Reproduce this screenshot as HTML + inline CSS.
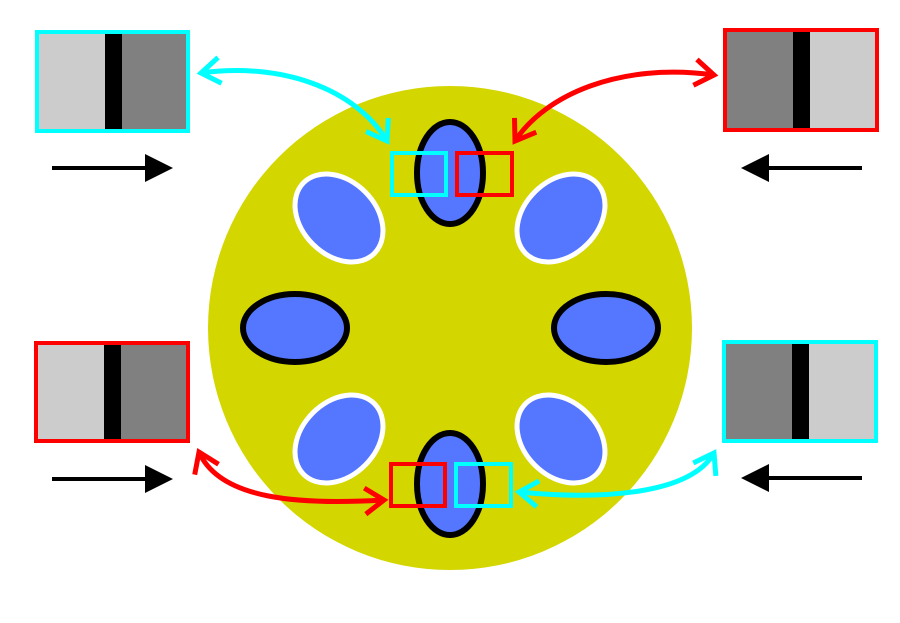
<!DOCTYPE html>
<html><head><style>html,body{margin:0;padding:0;background:#fff}svg{display:block}</style></head>
<body>
<svg width="900" height="623" viewBox="0 0 900 623" xmlns="http://www.w3.org/2000/svg">
<defs>
<marker id="mc" markerWidth="8" markerHeight="8" refX="7" refY="4" orient="auto-start-reverse" markerUnits="userSpaceOnUse" viewBox="0 0 8 8" style="overflow:visible">
<path d="M-12,-9 L7,4 L-12,17" transform="translate(0,-4) scale(1) translate(0,4)" fill="none" stroke="#00ffff" stroke-width="5"/>
</marker>
<marker id="mr" markerWidth="8" markerHeight="8" refX="7" refY="4" orient="auto-start-reverse" markerUnits="userSpaceOnUse" viewBox="0 0 8 8" style="overflow:visible">
<path d="M-12,-9 L7,4 L-12,17" fill="none" stroke="#ff0000" stroke-width="5"/>
</marker>
</defs>
<circle cx="450" cy="328" r="242" fill="#d4d600"/>
<g fill="#5577ff">
<ellipse cx="450" cy="173" rx="33" ry="51" stroke="#000" stroke-width="6"/>
<ellipse cx="450" cy="484" rx="33" ry="51" stroke="#000" stroke-width="6"/>
<ellipse cx="295" cy="328" rx="52" ry="34" stroke="#000" stroke-width="6"/>
<ellipse cx="606" cy="328" rx="52" ry="34" stroke="#000" stroke-width="6"/>
<ellipse cx="339" cy="218" rx="50" ry="37" stroke="#fff" stroke-width="5" transform="rotate(45 339 218)"/>
<ellipse cx="561" cy="218" rx="50" ry="37" stroke="#fff" stroke-width="5" transform="rotate(-45 561 218)"/>
<ellipse cx="339" cy="439" rx="50" ry="37" stroke="#fff" stroke-width="5" transform="rotate(-45 339 439)"/>
<ellipse cx="561" cy="439" rx="50" ry="37" stroke="#fff" stroke-width="5" transform="rotate(45 561 439)"/>
</g>
<g fill="none" stroke-width="4">
<rect x="392" y="153" width="54" height="42" stroke="#00ffff"/>
<rect x="457" y="153" width="55" height="42" stroke="#ff0000"/>
<rect x="391" y="464" width="54" height="42" stroke="#ff0000"/>
<rect x="456" y="464" width="55" height="42" stroke="#00ffff"/>
</g>
<!-- boxes -->
<rect x="37" y="32" width="68" height="99" fill="#cccccc"/><rect x="105" y="32" width="17" height="99" fill="#000"/><rect x="122" y="32" width="66" height="99" fill="#808080"/>
<rect x="37" y="32" width="151" height="99" fill="none" stroke="#00ffff" stroke-width="4"/>
<rect x="725" y="30" width="68" height="100" fill="#808080"/><rect x="793" y="30" width="17" height="100" fill="#000"/><rect x="810" y="30" width="67" height="100" fill="#cccccc"/>
<rect x="725" y="30" width="152" height="100" fill="none" stroke="#ff0000" stroke-width="4"/>
<rect x="36" y="343" width="68" height="98" fill="#cccccc"/><rect x="104" y="343" width="17" height="98" fill="#000"/><rect x="121" y="343" width="67" height="98" fill="#808080"/>
<rect x="36" y="343" width="152" height="98" fill="none" stroke="#ff0000" stroke-width="4"/>
<rect x="724" y="342" width="68" height="99" fill="#808080"/><rect x="792" y="342" width="17" height="99" fill="#000"/><rect x="809" y="342" width="67" height="99" fill="#cccccc"/>
<rect x="724" y="342" width="152" height="99" fill="none" stroke="#00ffff" stroke-width="4"/>
<!-- straight arrows -->
<g stroke="#000" stroke-width="4">
<line x1="52" y1="168" x2="150" y2="168"/><line x1="52" y1="479" x2="150" y2="479"/>
<line x1="764" y1="168" x2="862" y2="168"/><line x1="764" y1="478" x2="862" y2="478"/>
</g>
<g fill="#000">
<polygon points="145,154 173,168 145,182"/><polygon points="145,465 173,479 145,493"/>
<polygon points="769,154 741,168 769,182"/><polygon points="769,464 741,478 769,492"/>
</g>
<!-- curved arrows -->
<g fill="none" stroke-width="5">
<path d="M201,73 C280,62 355,88 387,141" stroke="#00ffff" marker-start="url(#mc)" marker-end="url(#mc)"/>
<path d="M714,75 C620,62 545,95 515,141" stroke="#ff0000" marker-start="url(#mr)" marker-end="url(#mr)"/>
<path d="M199,452 C220,500 300,505 384,500" stroke="#ff0000" marker-start="url(#mr)" marker-end="url(#mr)"/>
<path d="M714,453 C690,495 600,500 519,492" stroke="#00ffff" marker-start="url(#mc)" marker-end="url(#mc)"/>
</g>
</svg>
</body></html>
